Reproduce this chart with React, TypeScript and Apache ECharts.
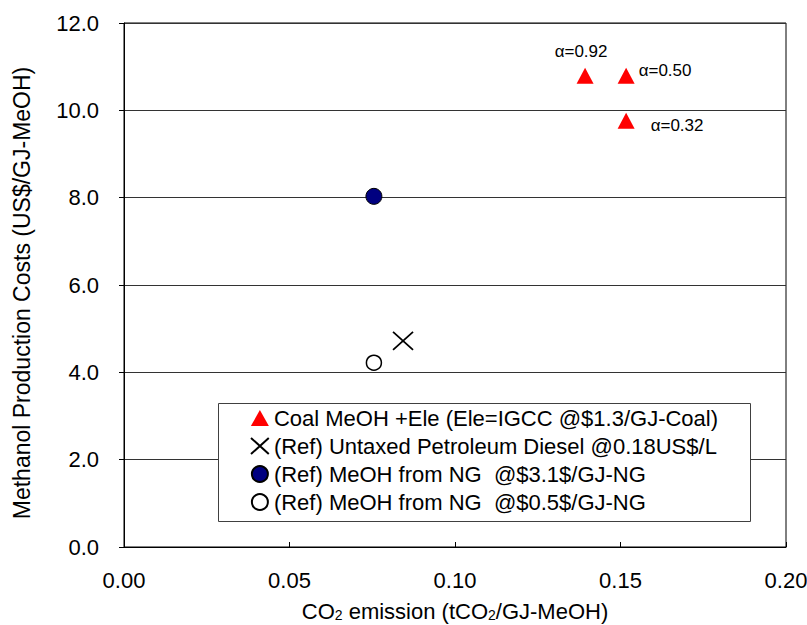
import { useEffect, useRef } from "react";
import * as echarts from "echarts";

// ---- data ----
const coalX = [0.1393, 0.1517, 0.1517];
const coalY = [10.79, 10.79, 9.76];
const alphaLabels = ["α=0.92", "α=0.50", "α=0.32"];
const dieselX = [0.0843];
const dieselY = [4.72];
const ngHighX = [0.0755];
const ngHighY = [8.03];
const ngLowX = [0.0755];
const ngLowY = [4.22];
const seriesNames = [
  "Coal MeOH +Ele (Ele=IGCC @$1.3/GJ-Coal)",
  "(Ref) Untaxed Petroleum Diesel @0.18US$/L",
  "(Ref) MeOH from NG  @$3.1$/GJ-NG",
  "(Ref) MeOH from NG  @$0.5$/GJ-NG",
];
const xMin = 0;
const xMax = 0.2;
const xInterval = 0.05;
const yMin = 0;
const yMax = 12;
const yInterval = 2;
const yAxisTitle = "Methanol Production Costs (US$/GJ-MeOH)";

const FONT = '"Liberation Sans", Arial, sans-serif';

const alphaLabelStyles = [
  { position: "top", distance: 5, offset: [-4, -3] },
  { position: "right", distance: 4, offset: [0, -5] },
  { position: "right", distance: 16, offset: [0, 5] },
];

const zip = (xs: number[], ys: number[]) => xs.map((x, i) => [x, ys[i]]);

export default function App() {
  const ref = useRef<HTMLDivElement>(null);
  useEffect(() => {
    if (!ref.current) return;
    const chart = echarts.init(ref.current, undefined, { renderer: "svg" });
    const coalData = coalX.map((x, i) => ({
      value: [x, coalY[i]],
      label: {
        show: true,
        formatter: alphaLabels[i],
        position: alphaLabelStyles[i].position as any,
        distance: alphaLabelStyles[i].distance,
        offset: alphaLabelStyles[i].offset,
        color: "#000",
        opacity: 1,
        fontSize: 17,
        fontFamily: FONT,
      },
    }));
    chart.setOption({
      animation: false,
      backgroundColor: "#fff",
      textStyle: { fontFamily: FONT },
      grid: {
        left: 124,
        right: 21,
        top: 23,
        bottom: 78,
        outerBoundsMode: "none",
        containLabel: false,
        show: true,
        borderColor: "#000",
        borderWidth: 1,
        backgroundColor: "transparent",
      },
      xAxis: {
        type: "value",
        min: xMin,
        max: xMax,
        interval: xInterval,
        name: "{n|CO}{s|2}{n| emission (tCO}{s|2}{n|/GJ-MeOH)}",
        nameLocation: "middle",
        nameGap: 51,
        nameTextStyle: {
          rich: {
            n: { fontSize: 22, fontFamily: FONT, color: "#000", lineHeight: 24, verticalAlign: "bottom" },
            s: { fontSize: 14, fontFamily: FONT, color: "#000", lineHeight: 14, verticalAlign: "bottom" },
          },
        },
        axisLine: { show: true, lineStyle: { color: "#000", width: 1 } },
        axisTick: { show: true, inside: true, length: 5, lineStyle: { color: "#000" } },
        axisLabel: {
          margin: 22,
          fontSize: 22,
          color: "#000",
          fontFamily: FONT,
          formatter: (v: number) => v.toFixed(2),
        },
        splitLine: { show: false },
      },
      yAxis: {
        type: "value",
        min: yMin,
        max: yMax,
        interval: yInterval,
        axisLine: { show: true, lineStyle: { color: "#000", width: 1 } },
        axisTick: { show: true, inside: false, length: 5, lineStyle: { color: "#000" } },
        axisLabel: {
          margin: 25,
          fontSize: 22,
          color: "#000",
          fontFamily: FONT,
          formatter: (v: number) => v.toFixed(1),
        },
        splitLine: { show: true, lineStyle: { color: "#333", width: 1 } },
      },
      legend: {
        show: true,
        orient: "vertical",
        left: 250,
        top: 407,
        padding: 0,
        itemGap: 6,
        itemWidth: 18,
        itemHeight: 16,
        selectedMode: false,
        textStyle: { fontSize: 22, color: "#000", fontFamily: FONT },
        data: seriesNames,
      },
      graphic: [
        {
          type: "rect",
          z: 3,
          shape: { x: 218.5, y: 403.5, width: 532, height: 118 },
          style: { fill: "#fff", stroke: "#404040", lineWidth: 1 },
        },
        {
          type: "text",
          x: 22,
          y: 293,
          rotation: Math.PI / 2,
          style: {
            text: yAxisTitle,
            fontSize: 23,
            fontFamily: FONT,
            fill: "#000",
            align: "center",
            verticalAlign: "middle",
          },
        },
      ],
      series: [
        {
          name: seriesNames[0],
          type: "scatter",
          symbol: "triangle",
          symbolSize: [17, 16],
          itemStyle: { color: "#FF0000", opacity: 1 },
          data: coalData,
          z: 5,
        },
        {
          name: seriesNames[1],
          type: "scatter",
          symbol: "path://M0,0L20,18M20,0L0,18",
          symbolSize: [20, 18],
          itemStyle: { color: "rgba(0,0,0,0)", borderColor: "#000", borderWidth: 1.6, opacity: 1 },
          data: zip(dieselX, dieselY),
          z: 5,
        },
        {
          name: seriesNames[2],
          type: "scatter",
          symbol: "circle",
          symbolSize: 16,
          itemStyle: { color: "#000080", borderColor: "#000", borderWidth: 1, opacity: 1 },
          data: zip(ngHighX, ngHighY),
          z: 5,
        },
        {
          name: seriesNames[3],
          type: "scatter",
          symbol: "circle",
          symbolSize: 15,
          itemStyle: { color: "#fff", borderColor: "#000", borderWidth: 1.5, opacity: 1 },
          data: zip(ngLowX, ngLowY),
          z: 5,
        },
      ],
    });
    return () => chart.dispose();
  }, []);
  return (
    <div
      ref={ref}
      style={{ position: "fixed", left: 0, top: 0, width: 807, height: 625, background: "#fff" }}
    />
  );
}
